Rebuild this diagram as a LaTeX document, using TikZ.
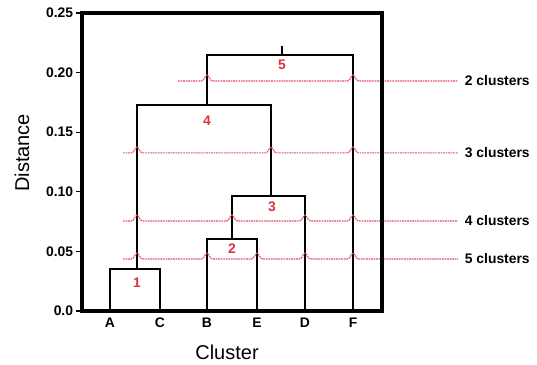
\documentclass[tikz,border=0pt]{standalone}
\usepackage{fontspec}
\setmainfont{Liberation Sans}
\usetikzlibrary{positioning, calc}
\definecolor{cutred}{RGB}{230,80,100}
\definecolor{numred}{RGB}{220,50,62}

\begin{document}
\begin{tikzpicture}[
  x=0.75pt, y=894pt,
  frame/.style={draw, line width=2.6pt},
  link/.style={draw, line width=1.2pt},
  cut/.style={draw=cutred, line width=0.85pt, dash pattern=on 1.3pt off 0.6pt},
  ticklab/.style={left, inner sep=2pt, font=\fontsize{10.4}{12}\selectfont\bfseries},
  leaflab/.style={below=3pt, inner sep=2pt, font=\fontsize{10.4}{12}\selectfont\bfseries},
  num/.style={text=numred, inner sep=0pt, font=\fontsize{10.4}{12}\selectfont\bfseries},
  cutlab/.style={anchor=west, inner sep=5pt, font=\fontsize{10.4}{12}\selectfont\bfseries},
  axlab/.style={font=\fontsize{15}{18}\selectfont}
  ]
  \useasboundingbox (0,-0.0453) rectangle (537,0.2609);

  % leaves
  \coordinate (A) at (110,0);
  \coordinate (C) at (160,0);
  \coordinate (B) at (207,0);
  \coordinate (E) at (257,0);
  \coordinate (D) at (305,0);
  \coordinate (F) at (353,0);

  % merge corners
  \coordinate (m1l) at (110,0.0352);  \coordinate (m1r) at (160,0.0352);
  \coordinate (m2l) at (207,0.0604);  \coordinate (m2r) at (257,0.0604);
  \coordinate (m3l) at (232,0.0965);  \coordinate (m3r) at (305,0.0965);
  \coordinate (m4l) at (137,0.1728);  \coordinate (m4r) at (271,0.1728);
  \coordinate (m5l) at (207,0.2148);  \coordinate (m5r) at (353,0.2148);
  \coordinate (m5b) at (282,0.2148);  \coordinate (top) at (282,0.2223);

  \draw[link] (A) -- (m1l) -- (m1r) -- (C);
  \draw[link] (B) -- (m2l) -- (m2r) -- (E);
  \draw[link] (m2l -| m3l) -- (m3l) -- (m3r) -- (D);
  \draw[link] (m1l -| m4l) -- (m4l) -- (m4r) -- (m3l -| m4r);
  \draw[link] (m4l -| m5l) -- (m5l) -- (m5r) -- (F);
  \draw[link] (m5b) -- (top);

  \node[num] (n1) at (137,0.0235) {1};
  \node[num] (n2) at (232,0.0520) {2};
  \node[num] (n3) at (272,0.0872) {3};
  \node[num] (n4) at (207,0.1594) {4};
  \node[num] (n5) at (282,0.2064) {5};

  % cut levels
  \node[cutlab] (k2) at (458,0.1930) {2 clusters};
  \node[cutlab] (k3) at (458,0.1326) {3 clusters};
  \node[cutlab] (k4) at (458,0.0755) {4 clusters};
  \node[cutlab] (k5) at (458,0.0436) {5 clusters};

  \draw[cut] (178,0.1930) \foreach \c in {207,353}{
      -- (\c-5.5,0.1930) .. controls (\c-3,0.1930) and (\c-1.5,0.1980) .. (\c,0.1980)
      .. controls (\c+1.5,0.1980) and (\c+3,0.1930) .. (\c+5.5,0.1930)} -- (k2.west);
  \draw[cut] (123,0.1326) \foreach \c in {137,271,353}{
      -- (\c-5.5,0.1326) .. controls (\c-3,0.1326) and (\c-1.5,0.1376) .. (\c,0.1376)
      .. controls (\c+1.5,0.1376) and (\c+3,0.1326) .. (\c+5.5,0.1326)} -- (k3.west);
  \draw[cut] (123,0.0755) \foreach \c in {137,232,305,353}{
      -- (\c-5.5,0.0755) .. controls (\c-3,0.0755) and (\c-1.5,0.0805) .. (\c,0.0805)
      .. controls (\c+1.5,0.0805) and (\c+3,0.0755) .. (\c+5.5,0.0755)} -- (k4.west);
  \draw[cut] (123,0.0436) \foreach \c in {137,207,257,305,353}{
      -- (\c-5.5,0.0436) .. controls (\c-3,0.0436) and (\c-1.5,0.0486) .. (\c,0.0486)
      .. controls (\c+1.5,0.0486) and (\c+3,0.0436) .. (\c+5.5,0.0436)} -- (k5.west);

  % axes
  \draw[frame] (82,0) rectangle (382,0.25);
  \foreach \v/\t in {0/0.0, 0.05/0.05, 0.10/0.10, 0.15/0.15, 0.20/0.20, 0.25/0.25}{
    \draw[line width=1pt] (76,\v) -- (82,\v);
    \node[ticklab] (y\t) at (76,\v) {\t};
  }
  \foreach \l in {A,C,B,E,D,F}
    \node[leaflab] (lab\l) at (\l) {\l};

  \node[axlab, rotate=90] (ylab) at (22,0.1326) {Distance};
  \node[axlab] (xlab) at (227,-0.0344) {Cluster};
\end{tikzpicture}
\end{document}
